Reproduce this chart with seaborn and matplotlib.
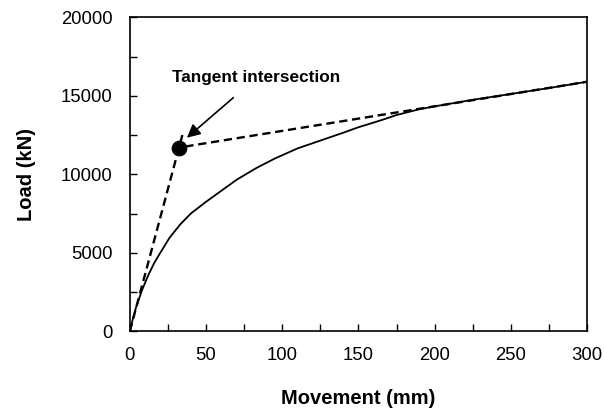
import matplotlib
matplotlib.use("Agg")
import matplotlib.pyplot as plt
import seaborn as sns
import pandas as pd

# Load-movement curve
movement = [0, 2, 4, 8, 12, 16, 20, 26, 33, 40, 50, 60, 70, 83, 95, 110, 125,
            140, 150, 165, 175, 190, 200, 225, 250, 275, 300]
load = [0, 800, 1500, 2620, 3550, 4350, 5000, 5950, 6800, 7500, 8250, 8950,
        9650, 10400, 11000, 11650, 12150, 12650, 13000, 13450, 13780, 14150,
        14330, 14750, 15120, 15500, 15900]

# Initial tangent and final tangent lines
initial_tangent_x = [0, 35]
initial_tangent_y = [0, 12700]
final_tangent_x = [28, 300]
final_tangent_y = [11640, 15900]

# Intersection of the two tangents
intersection_x = [32]
intersection_y = [11690]

sns.set_theme(style="ticks")
plt.rcParams["font.family"] = ["Liberation Sans", "DejaVu Sans"]
plt.rcParams["text.color"] = "black"
plt.rcParams["axes.labelcolor"] = "black"

fig = plt.figure(figsize=(6.04, 4.15), dpi=100)
ax = fig.add_axes([0.215, 0.202, 0.757, 0.756])

curve = pd.DataFrame({"Movement": movement, "Load": load})
sns.lineplot(data=curve, x="Movement", y="Load", ax=ax, color="black", lw=1.3)
sns.lineplot(x=initial_tangent_x, y=initial_tangent_y, ax=ax, color="black",
             lw=1.7, linestyle=(0, (3.5, 2)))
sns.lineplot(x=final_tangent_x, y=final_tangent_y, ax=ax, color="black",
             lw=1.7, linestyle=(0, (3.5, 2)))
sns.scatterplot(x=intersection_x, y=intersection_y, ax=ax, color="black",
                s=110, edgecolor="black", zorder=5)

ax.annotate("Tangent intersection", xy=(37.4, 12330), xytext=(83, 16150),
            ha="center", va="center", fontsize=12.4, fontweight="bold",
            color="black",
            arrowprops=dict(arrowstyle="-|>", color="black", lw=1.2,
                            mutation_scale=20, shrinkA=10, shrinkB=0))

ax.set_xlim(0, 300)
ax.set_ylim(0, 20000)
ax.set_xticks(range(0, 301, 50))
ax.set_xticks(range(0, 301, 25), minor=True)
ax.set_yticks(range(0, 20001, 5000))
ax.set_yticks(range(0, 20001, 2500), minor=True)
ax.tick_params(axis="both", which="both", direction="in", labelsize=13.3,
               color="black", labelcolor="black", width=1)
ax.tick_params(axis="x", which="major", length=5, pad=11.5)
ax.tick_params(axis="y", which="major", length=5, pad=12.5)
ax.tick_params(axis="both", which="minor", length=5)
for side in ax.spines.values():
    side.set_visible(True)
    side.set_color("black")
    side.set_linewidth(1.2)

ax.set_xlabel("Movement (mm)", fontsize=14.5, fontweight="bold")
ax.set_ylabel("Load (kN)", fontsize=14.5, fontweight="bold")
ax.xaxis.set_label_coords(0.5, -0.185)
ax.yaxis.set_label_coords(-0.205, 0.5)

fig.savefig("out.png", dpi=100, facecolor="white")
